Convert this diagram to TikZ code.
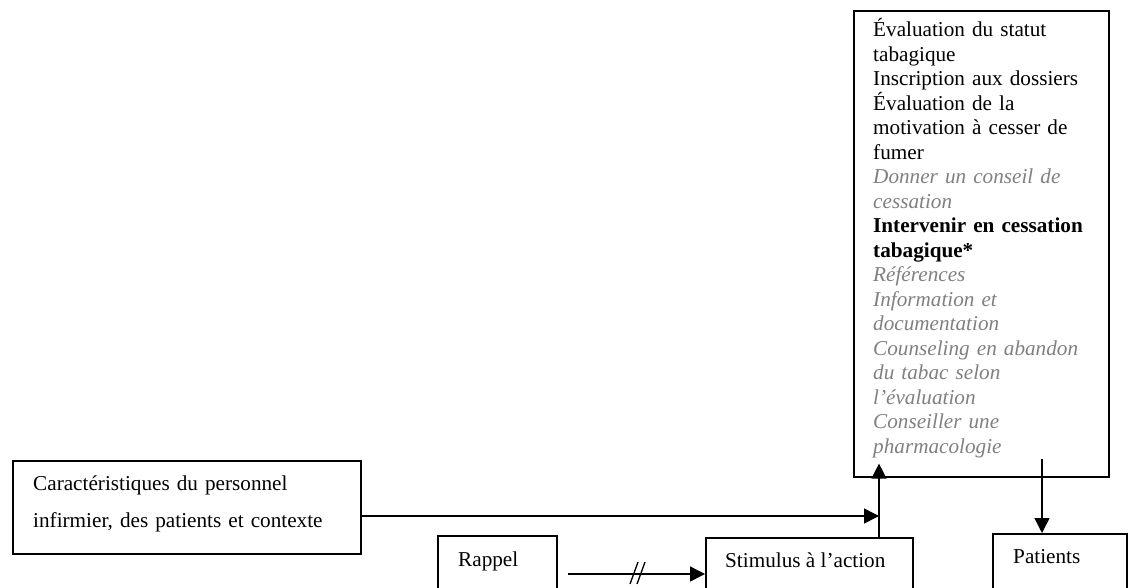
\documentclass[tikz,border=0pt]{standalone}
\usepackage{fontspec}
\setmainfont{Liberation Serif}
\usetikzlibrary{arrows.meta}
\definecolor{softgray}{RGB}{128,128,128}
\begin{document}
\begin{tikzpicture}[x=1pt,y=-1pt,
  frame/.style={draw, line width=1.6pt, inner sep=0pt, anchor=north west},
  body/.style={inner sep=0pt, anchor=base west, align=left,
    font=\fontsize{21.2}{24.5}\selectfont},
  link/.style={line width=1.5pt, -{Triangle[length=15pt,width=15pt]}}]
\useasboundingbox (0,0) rectangle (1131,588);
\clip (0,0) rectangle (1131,588);

% boxes
\node[frame, minimum width=255, minimum height=466] (acts) at (853,10) {};
\node[frame, minimum width=348, minimum height=93] (traits) at (12,460) {};
\node[frame, minimum width=119, minimum height=80] (rappel) at (437,535) {};
\node[frame, minimum width=207, minimum height=80] (stimulus) at (705,537) {};
\node[frame, minimum width=134, minimum height=80] (patients) at (992,533) {};

% texts
\node[body, text width=240] (actstxt) at (873,37) {%
  Évaluation du statut\\ tabagique\\ Inscription aux dossiers\\
  Évaluation de la\\ motivation à cesser de\\ fumer\\
  {\color{softgray}\itshape Donner un conseil de\\ cessation}\\
  {\bfseries Intervenir en cessation\\ tabagique*}\\
  {\color{softgray}\itshape Références\\ Information et\\ documentation\\
  Counseling en abandon\\ du tabac selon\\ l’évaluation\\
  Conseiller une\\ pharmacologie}};
\node[body, text width=320, font=\fontsize{21.2}{37}\selectfont] (traitstxt) at (33,490)
  {Caractéristiques du personnel\\ infirmier, des patients et contexte};
\node[body] (rappeltxt) at (458,566) {Rappel};
\node[body] (stimulustxt) at (725,567) {Stimulus à l’action};
\node[body] (patientstxt) at (1013,563) {Patients};

% connectors
\coordinate (junction) at (879,516);
\draw[link] (traits.east |- junction) -- (junction);
\draw[link, shorten >=-14pt] (stimulus.north -| junction) -- (junction |- acts.south);
\coordinate (handoff) at (1042,459);
\draw[link] (handoff) -- (handoff |- patients.north);
\coordinate (cue) at (568,574);
\draw[link] (cue) -- (cue -| stimulus.west);
% break marks on the reminder link
\draw[line width=1.3pt] (630,584) -- (638,562) (637,584) -- (645,562);
\end{tikzpicture}
\end{document}
